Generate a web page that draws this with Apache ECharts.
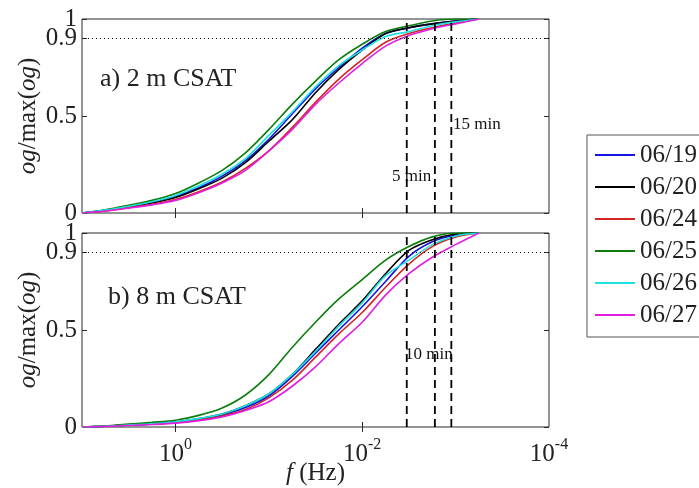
<!DOCTYPE html>
<html>
<head>
<meta charset="utf-8">
<script src="https://cdn.jsdelivr.net/npm/echarts@6/dist/echarts.min.js"></script>
<style>
  html, body { margin: 0; padding: 0; background: #ffffff; }
  #chart { width: 699px; height: 488px; }
</style>
</head>
<body>
<div id="chart"></div>
<script>
// Frequency grid (Hz), quarter-decade steps from 10 Hz down
const freqHz = [10, 5.623, 3.162, 1.778, 1, 0.5623, 0.3162, 0.1778, 0.1, 0.05623, 0.03162,
                0.01778, 0.01, 0.005623, 0.003162, 0.001778, 0.001, 0.0005623];

const days = ['06/19', '06/20', '06/24', '06/25', '06/26', '06/27'];
const dayColors = ['#1414e6', '#000000', '#d42424', '#0a7d0a', '#1ee0e0', '#e01ee0'];

// Normalised ogives, 2 m CSAT
const og2m_0619 = [0, 0.014, 0.033, 0.055, 0.085, 0.13, 0.19, 0.27, 0.38, 0.51, 0.64, 0.75, 0.85, 0.925, 0.955, 0.975, 0.99, 1.0];
const og2m_0620 = [0, 0.013, 0.032, 0.052, 0.080, 0.125, 0.18, 0.26, 0.37, 0.48, 0.62, 0.74, 0.84, 0.925, 0.955, 0.975, 0.99, 1.0];
const og2m_0624 = [0, 0.011, 0.028, 0.045, 0.070, 0.11, 0.16, 0.23, 0.32, 0.44, 0.57, 0.69, 0.79, 0.88, 0.925, 0.955, 0.98, 1.0];
const og2m_0625 = [0, 0.017, 0.040, 0.065, 0.100, 0.155, 0.22, 0.31, 0.43, 0.56, 0.68, 0.79, 0.87, 0.935, 0.965, 0.99, 1.0, 1.0];
const og2m_0626 = [0, 0.015, 0.035, 0.058, 0.090, 0.14, 0.20, 0.28, 0.40, 0.52, 0.65, 0.76, 0.84, 0.91, 0.935, 0.965, 0.985, 1.0];
const og2m_0627 = [0, 0.010, 0.025, 0.042, 0.065, 0.105, 0.155, 0.22, 0.32, 0.43, 0.56, 0.67, 0.77, 0.86, 0.915, 0.95, 0.975, 1.0];

// Normalised ogives, 8 m CSAT
const og8m_0619 = [0, 0.004, 0.010, 0.016, 0.025, 0.040, 0.062, 0.10, 0.16, 0.26, 0.38, 0.50, 0.62, 0.75, 0.88, 0.955, 0.99, 1.0];
const og8m_0620 = [0, 0.004, 0.010, 0.016, 0.025, 0.043, 0.067, 0.11, 0.17, 0.27, 0.40, 0.53, 0.65, 0.79, 0.91, 0.965, 0.995, 1.0];
const og8m_0624 = [0, 0.004, 0.010, 0.014, 0.022, 0.036, 0.057, 0.09, 0.15, 0.24, 0.36, 0.48, 0.59, 0.72, 0.84, 0.93, 0.98, 1.0];
const og8m_0625 = [0, 0.005, 0.015, 0.024, 0.035, 0.060, 0.098, 0.165, 0.27, 0.41, 0.54, 0.66, 0.76, 0.86, 0.93, 0.98, 1.0, 1.0];
const og8m_0626 = [0, 0.004, 0.010, 0.017, 0.027, 0.043, 0.067, 0.11, 0.17, 0.27, 0.39, 0.52, 0.64, 0.78, 0.86, 0.94, 0.985, 1.0];
const og8m_0627 = [0, 0.003, 0.008, 0.013, 0.020, 0.033, 0.052, 0.085, 0.13, 0.21, 0.31, 0.43, 0.54, 0.68, 0.79, 0.875, 0.94, 1.0];

const panels2m = [og2m_0619, og2m_0620, og2m_0624, og2m_0625, og2m_0626, og2m_0627];
const panels8m = [og8m_0619, og8m_0620, og8m_0624, og8m_0625, og8m_0626, og8m_0627];

// Averaging windows marked on the frequency axis (minutes)
const windowMinutes = [5, 10, 15];
const yTicks = [0, 0.5, 0.9, 1];
const yLabelsMain = [0, 0.5, 0.9];
const yLabelsTop = [1];
const xLabelTicks = [1, 0.01, 0.0001];
const xTicks = [1, 0.01];

const FONT = 'Liberation Serif';
const frameColor = '#2a2a2a';

const chart = echarts.init(document.getElementById('chart'));

function makeX(gi, withLabels) {
  const common = {
    gridIndex: gi, type: 'log', logBase: 10, min: 0.0001, max: 10, inverse: true,
    axisLine: { show: false }, splitLine: { show: false }
  };
  return [
    Object.assign({}, common, {
      position: 'bottom',
      axisTick: { show: true, inside: true, length: 5, customValues: xTicks, lineStyle: { color: frameColor } },
      axisLabel: withLabels ? {
        show: true, customValues: xLabelTicks, margin: 10, showMaxLabel: true, showMinLabel: true,
        formatter: v => '{b|10}{s|' + Math.round(Math.log10(v)) + '}',
        rich: {
          b: { fontFamily: FONT, fontSize: 25, color: '#222', verticalAlign: 'bottom', lineHeight: 30 },
          s: { fontFamily: FONT, fontSize: 16, color: '#222', verticalAlign: 'top', lineHeight: 30 }
        }
      } : { show: false },
      name: withLabels ? '{i|f} (Hz)' : '',
      nameLocation: 'middle', nameGap: 34, nameMoveOverlap: false,
      nameTextStyle: {
        fontFamily: FONT, fontSize: 25, color: '#222',
        rich: { i: { fontFamily: FONT, fontSize: 25, fontStyle: 'italic', color: '#222' } }
      }
    }),
    Object.assign({}, common, {
      position: 'top',
      axisTick: { show: true, inside: true, length: 5, customValues: xTicks, lineStyle: { color: frameColor } },
      axisLabel: { show: false }
    })
  ];
}

function yLabelStyle(values) {
  return {
    show: true, customValues: values, fontFamily: FONT, fontSize: 25, color: '#222', margin: 5,
    showMaxLabel: true, showMinLabel: true, hideOverlap: false
  };
}

function makeY(gi) {
  const common = {
    gridIndex: gi, type: 'value', min: 0, max: 1,
    axisLine: { show: false }, splitLine: { show: false }
  };
  return [
    Object.assign({}, common, {
      position: 'left',
      axisTick: { show: true, inside: true, length: 5, customValues: yTicks, lineStyle: { color: frameColor } },
      axisLabel: yLabelStyle(yLabelsMain),
      name: '{i|og}/max({i|og})', nameLocation: 'middle', nameGap: 41, nameRotate: 90,
      nameMoveOverlap: false,
      nameTextStyle: {
        fontFamily: FONT, fontSize: 25, color: '#222',
        rich: { i: { fontFamily: FONT, fontSize: 25, fontStyle: 'italic', color: '#222' } }
      }
    }),
    Object.assign({}, common, {
      position: 'right',
      axisTick: { show: true, inside: true, length: 5, customValues: yTicks, lineStyle: { color: frameColor } },
      axisLabel: { show: false }
    }),
    // the top "1" label sits on its own axis so it is not dropped next to "0.9"
    Object.assign({}, common, {
      position: 'left',
      axisTick: { show: false },
      axisLabel: yLabelStyle(yLabelsTop)
    })
  ];
}

const series = [];
[panels2m, panels8m].forEach((panel, gi) => {
  panel.forEach((vals, k) => {
    const s = {
      name: days[k], type: 'line', xAxisIndex: gi * 2, yAxisIndex: gi * 3,
      data: freqHz.map((f, j) => [f, vals[j]]),
      showSymbol: false, symbol: 'none', smooth: 0.3,
      lineStyle: { color: dayColors[k], width: 1.6 },
      itemStyle: { color: dayColors[k] },
      animation: false, z: 3
    };
    if (k === 0) {
      // 0.9 reference level
      s.markLine = {
        silent: true, symbol: ['none', 'none'], label: { show: false }, animation: false,
        data: [{ yAxis: 0.9, lineStyle: { type: [1, 3], width: 1.2, color: '#000' } }]
      };
    }
    series.push(s);
  });
  // vertical dashed lines at the averaging-window frequencies
  windowMinutes.forEach(m => {
    const f = 1 / (60 * m);
    series.push({
      name: 'win' + m, type: 'line', xAxisIndex: gi * 2, yAxisIndex: gi * 3,
      data: [[f, 0], [f, 1]], showSymbol: false, symbol: 'none', silent: true,
      lineStyle: { color: '#000', width: 1.8, type: [8, 5] },
      animation: false, z: 4
    });
  });
});

const xAxes = makeX(0, false).concat(makeX(1, true));
const yAxes = makeY(0).concat(makeY(1));

chart.setOption({
  backgroundColor: '#ffffff',
  animation: false,
  grid: [
    { left: 82, right: 150, top: 19, height: 194, show: true, borderColor: frameColor, borderWidth: 1 },
    { left: 82, right: 150, top: 233, height: 194, show: true, borderColor: frameColor, borderWidth: 1 }
  ],
  xAxis: xAxes,
  yAxis: yAxes,
  legend: {
    orient: 'vertical', left: 587, top: 135,
    icon: 'rect', itemWidth: 40, itemHeight: 2, itemGap: 6,
    padding: [7, 140, 9, 8],
    borderColor: '#555', borderWidth: 1,
    data: days,
    textStyle: { fontFamily: FONT, fontSize: 25, color: '#222', lineHeight: 26 }
  },
  graphic: [
    { type: 'text', left: 100, top: 66, style: { text: 'a) 2 m CSAT', font: '26px "' + FONT + '"', fill: '#222' } },
    { type: 'text', left: 108, top: 284, style: { text: 'b) 8 m CSAT', font: '26px "' + FONT + '"', fill: '#222' } },
    { type: 'text', left: 392, top: 168, style: { text: '5 min', font: '17px "' + FONT + '"', fill: '#111' } },
    { type: 'text', left: 453, top: 116, style: { text: '15 min', font: '17px "' + FONT + '"', fill: '#111' } },
    { type: 'text', left: 405, top: 346, style: { text: '10 min', font: '17px "' + FONT + '"', fill: '#111' } }
  ],
  series: series
});
</script>
</body>
</html>
